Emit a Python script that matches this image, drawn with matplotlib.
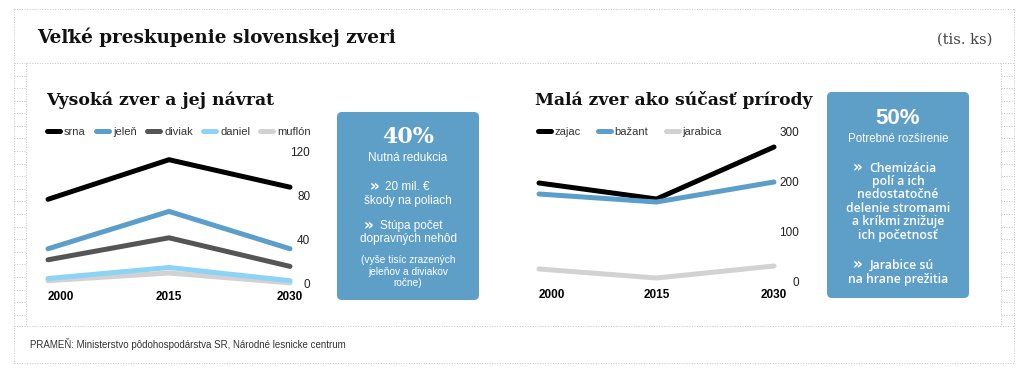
import numpy as np
import matplotlib
matplotlib.use("Agg")
import matplotlib.pyplot as plt
from matplotlib.patches import FancyBboxPatch

# data (tis. ks)
years = [2000, 2015, 2030]

big_names = ["srna", "jeleň", "diviak", "daniel", "muflón"]
srna = [77, 113, 88]
jelen = [32, 66, 32]
diviak = [22, 42, 16]
daniel = [5, 15, 3]
muflon = [3, 10, 1]
big_values = [srna, jelen, diviak, daniel, muflon]
big_colors = ["#000000", "#5b9ec9", "#555555", "#8dd3f5", "#d2d2d2"]
big_ticks = [0, 40, 80, 120]

small_names = ["zajac", "bažant", "jarabica"]
zajac = [198, 166, 270]
bazant = [176, 160, 200]
jarabica = [26, 8, 32]
small_values = [zajac, bazant, jarabica]
small_colors = ["#000000", "#5b9ec9", "#d2d2d2"]
small_ticks = [0, 100, 200, 300]

W, H = 1024, 375
fig = plt.figure(figsize=(W / 100, H / 100), dpi=100)

# background layer in pixel coordinates
bg = fig.add_axes([0, 0, 1, 1])
bg.set_xlim(0, W)
bg.set_ylim(H, 0)
bg.axis("off")

dot = dict(color="#c4c4c4", lw=0.7, linestyle=(0, (1, 1.6)))
bg.plot([14, 1014], [9, 9], **dot)
bg.plot([14, 1014], [363, 363], **dot)
bg.plot([14, 14], [9, 363], **dot)
bg.plot([1014, 1014], [9, 363], **dot)
bg.plot([14, 1014], [63, 63], **dot)
bg.plot([14, 1014], [326, 326], **dot)
bg.plot([26, 26], [63, 326], **dot)
bg.plot([1001, 1001], [63, 326], **dot)
for yy in np.arange(75.5, 326, 12.6):
    bg.plot([14, 26], [yy, yy], **dot)
    bg.plot([1001, 1014], [yy, yy], **dot)

serif = "DejaVu Serif"
sans = "Liberation Sans"

bg.text(37, 37, "Veľké preskupenie slovenskej zveri", family=serif, weight="bold",
        fontsize=13.2, va="center", ha="left", color="#111111")
bg.text(992, 40, "(tis. ks)", family=serif, fontsize=10.5, va="center", ha="right",
        color="#444444")
bg.text(46, 100, "Vysoká zver a jej návrat", family=serif, weight="bold",
        fontsize=12.4, va="center", ha="left", color="#111111")
bg.text(535, 100, "Malá zver ako súčasť prírody", family=serif, weight="bold",
        fontsize=12.3, va="center", ha="left", color="#111111")
bg.text(30, 344, "PRAMEŇ: Ministerstvo pôdohospodárstva SR, Národné lesnicke centrum",
        family=sans, fontsize=7, va="center", ha="left", color="#333333")

box_color = "#5e9fc8"
bg.add_patch(FancyBboxPatch((337, 112), 142, 188, boxstyle="round,pad=0,rounding_size=5",
                            fc=box_color, ec="none"))
bg.add_patch(FancyBboxPatch((827, 92), 142, 206, boxstyle="round,pad=0,rounding_size=5",
                            fc=box_color, ec="none"))


def chevron_line(xc, xt, y, s, **kw):
    bg.text(xc, y, "»", family="DejaVu Sans", weight="bold", fontsize=11,
            color="white", ha="right", va="center")
    bg.text(xt, y, s, color="white", ha="left", va="center", **kw)


# left box
cx = 408
bg.text(cx, 137, "40%", family=serif, weight="bold", fontsize=16, color="white",
        ha="center", va="center")
left_lines = [
    (158, "Nutná redukcia", 8.5),
    (201, "škody na poliach", 8.5),
    (239, "dopravných nehôd", 8.5),
    (260, "(vyše tisíc zrazených", 7.3),
    (272, "jeleňov a diviakov", 7.3),
    (283, "ročne)", 7.3),
]
for y, s, fs in left_lines:
    bg.text(cx, y, s, family=sans, fontsize=fs, color="white",
            ha="center", va="center")
chevron_line(379, 385, 187, "20 mil. €", family=sans, fontsize=8.5)
chevron_line(373, 380, 226, "Stúpa počet", family=sans, fontsize=8.5)

# right box
cx = 898
rfont = "Open Sans"
bg.text(cx, 118, "50%", family=sans, weight="bold", fontsize=16, color="white",
        ha="center", va="center")
bg.text(cx, 139, "Potrebné rozšírenie", family=sans, fontsize=8.3, color="white",
        ha="center", va="center")
right_lines = [
    (182, "polí a ich"),
    (195, "nedostatočné"),
    (209, "delenie stromami"),
    (222, "a kríkmi znižuje"),
    (236, "ich početnosť"),
    (279, "na hrane prežitia"),
]
for y, s in right_lines:
    bg.text(cx, y, s, family=rfont, fontsize=8.8, weight="semibold", color="white",
            ha="center", va="center")
chevron_line(862, 869, 168, "Chemizácia", family=rfont, fontsize=8.8, weight="semibold")
chevron_line(862, 870, 265, "Jarabice sú", family=rfont, fontsize=8.8, weight="semibold")


def px_axes(x0, x1, ytop, ybot):
    return fig.add_axes([x0 / W, 1 - ybot / H, (x1 - x0) / W, (ybot - ytop) / H])


def style_chart(ax, ticks, ypad):
    ax.set_xlim(years[0], years[-1])
    ax.set_ylim(ticks[0], ticks[-1])
    ax.patch.set_alpha(0)
    for sp in ax.spines.values():
        sp.set_visible(False)
    ax.yaxis.tick_right()
    ax.set_yticks(ticks)
    ax.set_yticklabels([str(t) for t in ticks], family=sans, fontsize=8.5, ha="right",
                       color="#222222")
    ax.tick_params(axis="y", length=0, pad=ypad)
    ax.set_xticks(years)
    ax.set_xticklabels([str(y) for y in years], family=sans, weight="bold", fontsize=8.5)
    ax.get_xticklabels()[0].set_ha("left")
    ax.tick_params(axis="x", length=0, pad=5)


ax1 = px_axes(48, 290, 152, 284)
zs = [5, 4, 3, 2, 1]
for name, vals, col, z in zip(big_names, big_values, big_colors, zs):
    ax1.plot(years, vals, color=col, lw=3.6, label=name, clip_on=False,
             solid_capstyle="round", solid_joinstyle="miter", zorder=z)
style_chart(ax1, big_ticks, 14.5)
fig.legend(*ax1.get_legend_handles_labels(), loc="center left",
           bbox_to_anchor=(47 / W, 1 - 132 / H), ncol=5, frameon=False,
           borderpad=0, borderaxespad=0, handlelength=1.2, handletextpad=0.35,
           columnspacing=0.9, labelcolor="#333333", prop={"family": sans, "size": 8})

ax2 = px_axes(539, 774, 132, 282)
for name, vals, col in zip(small_names, small_values, small_colors):
    ax2.plot(years, vals, color=col, lw=3.6, label=name, clip_on=False,
             solid_capstyle="round", solid_joinstyle="miter")
style_chart(ax2, small_ticks, 18)
fig.legend(*ax2.get_legend_handles_labels(), loc="center left",
           bbox_to_anchor=(538 / W, 1 - 132 / H), ncol=3, frameon=False,
           borderpad=0, borderaxespad=0, handlelength=1.2, handletextpad=0.25,
           columnspacing=1.6, labelcolor="#333333", prop={"family": sans, "size": 8})

fig.savefig("out.png", dpi=100)
